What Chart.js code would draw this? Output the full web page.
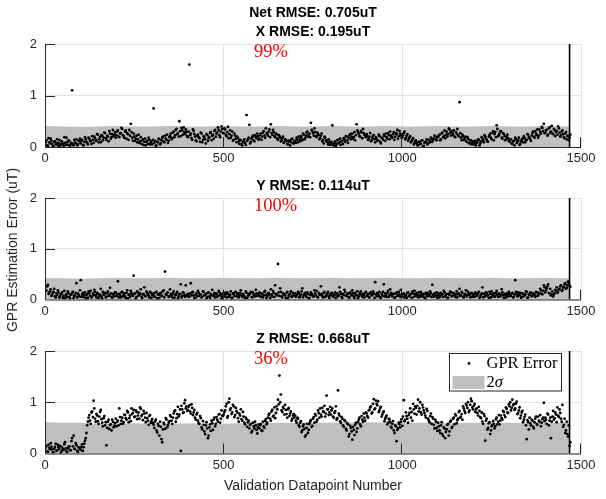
<!DOCTYPE html>
<html>
<head>
<meta charset="utf-8">
<script src="https://cdn.jsdelivr.net/npm/chart.js@4.4.1/dist/chart.umd.min.js"></script>
<style>
    html, body { margin: 0; padding: 0; background: #fff; }
    #wrap { position: relative; width: 606px; height: 499px; }
    #wrap canvas { position: absolute; left: 0; top: 0; }
</style>
</head>
<body>
<div id="wrap">
    <canvas id="chartX" width="606" height="499"></canvas>
    <canvas id="chartY" width="606" height="499"></canvas>
    <canvas id="chartZ" width="606" height="499"></canvas>
</div>
<script>
// sampled validation datapoints: first arrays at 0, 4, 8 ... 1468,
// second arrays at 2, 6, 10 ... 1470; one row = 100 datapoints
const SAMPLE_STEP = 4;
const SECOND_OFFSET = 2;

// GPR error, X component (uT)
const errX = [
    0.04, 0.13, 0.02, 0.09, 0.16, 0.06, 0.01, 0.11, 0.07, 0.03, 0.14, 0.05, 0.10, 0.02, 0.08, 0.18, 0.04, 0.12, 0.06, 1.10, 0.03, 0.09, 0.15, 0.05, 0.11,
    0.07, 0.14, 0.03, 0.19, 0.10, 0.05, 0.16, 0.12, 0.21, 0.08, 0.17, 0.13, 0.24, 0.15, 0.09, 0.22, 0.18, 0.27, 0.14, 0.20, 0.31, 0.16, 0.25, 0.21, 0.29,
    0.23, 0.32, 0.19, 0.27, 0.35, 0.21, 0.30, 0.16, 0.25, 0.33, 0.45, 0.18, 0.26, 0.12, 0.22, 0.15, 0.08, 0.19, 0.13, 0.04, 0.16, 0.10, 0.06, 0.14, 0.09,
    0.05, 0.75, 0.12, 0.03, 0.09, 0.15, 0.07, 0.18, 0.11, 0.22, 0.14, 0.08, 0.19, 0.26, 0.17, 0.30, 0.23, 0.35, 0.27, 0.50, 0.21, 0.32, 0.38, 0.25, 0.29,
    0.19, 1.60, 0.26, 0.14, 0.31, 0.20, 0.11, 0.24, 0.17, 0.28, 0.09, 0.21, 0.15, 0.25, 0.12, 0.19, 0.29, 0.22, 0.16, 0.33, 0.26, 0.38, 0.23, 0.30, 0.35,
    0.27, 0.34, 0.21, 0.39, 0.25, 0.18, 0.30, 0.14, 0.22, 0.09, 0.17, 0.06, 0.13, 0.03, 0.11, 0.08, 0.62, 0.15, 0.43, 0.10, 0.19, 0.13, 0.23, 0.17, 0.21,
    0.16, 0.26, 0.20, 0.31, 0.18, 0.27, 0.22, 0.34, 0.44, 0.24, 0.29, 0.19, 0.25, 0.14, 0.21, 0.11, 0.17, 0.08, 0.15, 0.12, 0.05, 0.13, 0.09, 0.16, 0.07,
    0.12, 0.18, 0.09, 0.15, 0.21, 0.13, 0.24, 0.17, 0.28, 0.20, 0.26, 0.47, 0.31, 0.22, 0.29, 0.19, 0.25, 0.15, 0.22, 0.11, 0.07, 0.18, 0.13, 0.05, 0.10,
    0.07, 0.42, 0.03, 0.11, 0.06, 0.14, 0.09, 0.04, 0.12, 0.17, 0.10, 0.20, 0.08, 0.23, 0.15, 0.26, 0.19, 0.13, 0.44, 0.29, 0.21, 0.31, 0.17, 0.27, 0.22,
    0.25, 0.14, 0.20, 0.11, 0.18, 0.23, 0.09, 0.16, 0.13, 0.21, 0.07, 0.17, 0.24, 0.12, 0.19, 0.27, 0.15, 0.22, 0.18, 0.29, 0.20, 0.25, 0.16, 0.31, 0.23,
    0.19, 0.27, 0.15, 0.22, 0.12, 0.18, 0.09, 0.14, 0.05, 0.11, 0.08, 0.03, 0.10, 0.06, 0.13, 0.02, 0.09, 0.15, 0.07, 0.12, 0.18, 0.10, 0.16, 0.21, 0.13,
    0.19, 0.24, 0.15, 0.28, 0.21, 0.17, 0.30, 0.25, 0.34, 0.22, 0.27, 0.32, 0.19, 0.26, 0.23, 0.87, 0.18, 0.24, 0.14, 0.20, 0.10, 0.16, 0.07, 0.13, 0.09,
    0.05, 0.12, 0.08, 0.15, 0.03, 0.11, 0.17, 0.09, 0.20, 0.14, 0.10, 0.23, 0.18, 0.27, 0.13, 0.29, 0.42, 0.21, 0.26, 0.31, 0.16, 0.25, 0.13, 0.20, 0.17,
    0.10, 0.15, 0.06, 0.12, 0.18, 0.08, 0.13, 0.04, 0.11, 0.16, 0.21, 0.09, 0.14, 0.24, 0.17, 0.12, 0.27, 0.20, 0.31, 0.23, 0.18, 0.34, 0.26, 0.37, 0.45,
    0.27, 0.33, 0.24, 0.38, 0.30, 0.26, 0.35, 0.21, 0.31, 0.40, 0.28, 0.23, 0.32, 0.19, 0.26, 0.15, 0.22, 0.18
];
const errX2 = [
    0.09, 0.03, 0.17, 0.07, 0.12, 0.01, 0.10, 0.05, 0.15, 0.08, 0.02, 0.11, 0.06, 0.19, 0.04, 0.09, 0.13, 0.02, 0.08, 0.05, 0.14, 0.07, 0.03, 0.12, 0.16,
    0.12, 0.04, 0.10, 0.15, 0.07, 0.18, 0.11, 0.06, 0.14, 0.20, 0.12, 0.25, 0.09, 0.19, 0.23, 0.13, 0.28, 0.17, 0.22, 0.11, 0.26, 0.19, 0.33, 0.24, 0.18,
    0.30, 0.20, 0.26, 0.37, 0.23, 0.18, 0.32, 0.27, 0.14, 0.22, 0.29, 0.12, 0.20, 0.16, 0.09, 0.24, 0.11, 0.06, 0.15, 0.10, 0.03, 0.12, 0.18, 0.05, 0.11,
    0.14, 0.08, 0.02, 0.10, 0.16, 0.05, 0.13, 0.20, 0.09, 0.16, 0.24, 0.12, 0.21, 0.15, 0.28, 0.19, 0.33, 0.25, 0.20, 0.31, 0.37, 0.24, 0.29, 0.34, 0.21,
    0.30, 0.23, 0.17, 0.34, 0.25, 0.13, 0.22, 0.19, 0.10, 0.26, 0.14, 0.18, 0.07, 0.23, 0.17, 0.27, 0.13, 0.24, 0.31, 0.20, 0.28, 0.33, 0.19, 0.40, 0.27,
    0.36, 0.24, 0.29, 0.17, 0.32, 0.22, 0.12, 0.26, 0.16, 0.20, 0.11, 0.14, 0.05, 0.09, 0.15, 0.04, 0.12, 0.18, 0.07, 0.16, 0.22, 0.11, 0.19, 0.26, 0.14,
    0.23, 0.14, 0.28, 0.22, 0.36, 0.25, 0.30, 0.19, 0.27, 0.33, 0.21, 0.26, 0.16, 0.23, 0.18, 0.13, 0.20, 0.10, 0.14, 0.06, 0.11, 0.03, 0.15, 0.08, 0.12,
    0.08, 0.14, 0.20, 0.11, 0.18, 0.26, 0.15, 0.22, 0.30, 0.24, 0.19, 0.33, 0.27, 0.36, 0.21, 0.28, 0.23, 0.17, 0.26, 0.14, 0.20, 0.12, 0.09, 0.15, 0.04,
    0.10, 0.05, 0.08, 0.02, 0.13, 0.07, 0.16, 0.11, 0.06, 0.15, 0.21, 0.13, 0.18, 0.25, 0.20, 0.16, 0.29, 0.23, 0.32, 0.26, 0.20, 0.28, 0.35, 0.24, 0.19,
    0.21, 0.16, 0.27, 0.13, 0.22, 0.15, 0.19, 0.12, 0.24, 0.10, 0.18, 0.14, 0.21, 0.26, 0.16, 0.23, 0.30, 0.19, 0.25, 0.14, 0.27, 0.33, 0.21, 0.26, 0.18,
    0.24, 0.30, 0.18, 0.25, 0.16, 0.21, 0.12, 0.17, 0.07, 0.13, 0.04, 0.10, 0.06, 0.12, 0.01, 0.08, 0.11, 0.05, 0.14, 0.09, 0.16, 0.13, 0.22, 0.15, 0.19,
    0.22, 0.13, 0.26, 0.19, 0.32, 0.24, 0.20, 0.36, 0.28, 0.31, 0.24, 0.20, 0.29, 0.35, 0.21, 0.27, 0.13, 0.21, 0.17, 0.12, 0.19, 0.08, 0.13, 0.05, 0.11,
    0.08, 0.03, 0.10, 0.14, 0.07, 0.19, 0.13, 0.23, 0.16, 0.11, 0.20, 0.26, 0.15, 0.31, 0.25, 0.19, 0.35, 0.23, 0.30, 0.18, 0.27, 0.21, 0.15, 0.24, 0.12,
    0.14, 0.07, 0.11, 0.03, 0.15, 0.10, 0.18, 0.06, 0.14, 0.09, 0.17, 0.13, 0.25, 0.19, 0.15, 0.22, 0.30, 0.18, 0.26, 0.34, 0.22, 0.29, 0.39, 0.31, 0.27,
    0.32, 0.22, 0.36, 0.28, 0.41, 0.25, 0.33, 0.29, 0.24, 0.36, 0.20, 0.30, 0.25, 0.17, 0.29, 0.21, 0.13, 0.24
];

// GPR error, Y component (uT)
const errY = [
    0.24, 0.17, 0.29, 0.13, 0.20, 0.09, 0.15, 0.06, 0.12, 0.18, 0.04, 0.10, 0.14, 0.07, 0.02, 0.11, 0.16, 0.05, 0.09, 0.13, 0.03, 0.08, 0.32, 0.12, 0.06,
    0.38, 0.10, 0.05, 0.14, 0.08, 0.03, 0.12, 0.17, 0.06, 0.09, 0.15, 0.04, 0.11, 0.07, 0.21, 0.02, 0.10, 0.13, 0.05, 0.16, 0.08, 0.12, 0.03, 0.09, 0.14,
    0.07, 0.36, 0.11, 0.04, 0.15, 0.09, 0.06, 0.13, 0.02, 0.10, 0.17, 0.08, 0.47, 0.12, 0.05, 0.14, 0.09, 0.20, 0.03, 0.11, 0.07, 0.16, 0.10, 0.04, 0.13,
    0.08, 0.12, 0.05, 0.15, 0.10, 0.03, 0.13, 0.07, 0.18, 0.55, 0.09, 0.14, 0.06, 0.11, 0.04, 0.16, 0.08, 0.12, 0.02, 0.10, 0.30, 0.07, 0.13, 0.05, 0.09,
    0.11, 0.06, 0.32, 0.14, 0.08, 0.03, 0.12, 0.17, 0.07, 0.10, 0.05, 0.15, 0.09, 0.02, 0.13, 0.06, 0.11, 0.19, 0.08, 0.04, 0.12, 0.07, 0.14, 0.10, 0.05,
    0.09, 0.13, 0.04, 0.11, 0.07, 0.16, 0.03, 0.10, 0.14, 0.06, 0.12, 0.08, 0.18, 0.05, 0.09, 0.02, 0.13, 0.07, 0.11, 0.15, 0.04, 0.10, 0.06, 0.12, 0.08,
    0.14, 0.05, 0.11, 0.08, 0.17, 0.03, 0.12, 0.09, 0.20, 0.06, 0.13, 0.28, 0.10, 0.70, 0.07, 0.15, 0.04, 0.11, 0.08, 0.13, 0.02, 0.10, 0.16, 0.06, 0.09,
    0.12, 0.07, 0.15, 0.04, 0.10, 0.22, 0.08, 0.13, 0.05, 0.11, 0.03, 0.14, 0.09, 0.06, 0.12, 0.17, 0.04, 0.10, 0.26, 0.07, 0.13, 0.05, 0.09, 0.15, 0.03,
    0.08, 0.12, 0.05, 0.14, 0.10, 0.06, 0.24, 0.11, 0.03, 0.09, 0.15, 0.07, 0.12, 0.04, 0.10, 0.18, 0.06, 0.13, 0.08, 0.02, 0.11, 0.16, 0.05, 0.09, 0.13,
    0.07, 0.11, 0.04, 0.14, 0.09, 0.12, 0.34, 0.06, 0.10, 0.15, 0.03, 0.08, 0.30, 0.12, 0.05, 0.17, 0.09, 0.13, 0.06, 0.11, 0.04, 0.14, 0.08, 0.10, 0.19,
    0.06, 0.12, 0.09, 0.03, 0.14, 0.07, 0.11, 0.16, 0.05, 0.10, 0.13, 0.04, 0.08, 0.15, 0.06, 0.11, 0.02, 0.09, 0.13, 0.07, 0.12, 0.29, 0.05, 0.10, 0.14,
    0.08, 0.04, 0.13, 0.10, 0.17, 0.06, 0.11, 0.03, 0.09, 0.14, 0.07, 0.12, 0.05, 0.16, 0.10, 0.21, 0.08, 0.13, 0.04, 0.11, 0.06, 0.15, 0.09, 0.12, 0.05,
    0.10, 0.14, 0.07, 0.12, 0.03, 0.09, 0.24, 0.11, 0.06, 0.13, 0.08, 0.15, 0.04, 0.10, 0.12, 0.07, 0.17, 0.05, 0.11, 0.09, 0.14, 0.03, 0.08, 0.12, 0.06,
    0.11, 0.07, 0.13, 0.05, 0.38, 0.10, 0.14, 0.08, 0.03, 0.12, 0.06, 0.10, 0.15, 0.04, 0.09, 0.13, 0.07, 0.11, 0.05, 0.14, 0.08, 0.12, 0.18, 0.10, 0.28,
    0.14, 0.22, 0.30, 0.12, 0.08, 0.16, 0.10, 0.19, 0.24, 0.15, 0.21, 0.28, 0.18, 0.25, 0.32, 0.23, 0.35, 0.27
];
const errY2 = [
    0.19, 0.26, 0.11, 0.16, 0.07, 0.13, 0.21, 0.04, 0.09, 0.14, 0.06, 0.11, 0.03, 0.17, 0.08, 0.05, 0.12, 0.02, 0.10, 0.15, 0.07, 0.13, 0.04, 0.09, 0.18,
    0.05, 0.13, 0.09, 0.02, 0.11, 0.16, 0.07, 0.04, 0.12, 0.19, 0.08, 0.13, 0.03, 0.10, 0.06, 0.15, 0.09, 0.04, 0.12, 0.07, 0.23, 0.05, 0.11, 0.06, 0.14,
    0.10, 0.04, 0.08, 0.14, 0.06, 0.12, 0.03, 0.18, 0.09, 0.05, 0.13, 0.07, 0.11, 0.02, 0.16, 0.08, 0.12, 0.05, 0.10, 0.24, 0.06, 0.13, 0.08, 0.15, 0.03,
    0.11, 0.06, 0.14, 0.02, 0.09, 0.12, 0.07, 0.16, 0.04, 0.10, 0.13, 0.05, 0.20, 0.08, 0.12, 0.03, 0.09, 0.15, 0.06, 0.11, 0.04, 0.14, 0.08, 0.28, 0.07,
    0.05, 0.12, 0.08, 0.15, 0.03, 0.10, 0.06, 0.13, 0.09, 0.04, 0.16, 0.08, 0.11, 0.05, 0.14, 0.03, 0.09, 0.07, 0.13, 0.10, 0.05, 0.17, 0.08, 0.02, 0.12,
    0.06, 0.10, 0.14, 0.05, 0.09, 0.03, 0.12, 0.07, 0.15, 0.10, 0.04, 0.13, 0.08, 0.11, 0.06, 0.16, 0.03, 0.09, 0.12, 0.05, 0.14, 0.08, 0.19, 0.07, 0.11,
    0.07, 0.12, 0.04, 0.15, 0.09, 0.06, 0.13, 0.03, 0.10, 0.17, 0.05, 0.11, 0.08, 0.14, 0.22, 0.06, 0.12, 0.09, 0.03, 0.15, 0.07, 0.11, 0.05, 0.13, 0.08,
    0.05, 0.10, 0.13, 0.07, 0.16, 0.04, 0.11, 0.08, 0.14, 0.02, 0.09, 0.12, 0.06, 0.18, 0.08, 0.05, 0.13, 0.09, 0.11, 0.04, 0.15, 0.07, 0.12, 0.06, 0.10,
    0.13, 0.06, 0.09, 0.03, 0.12, 0.08, 0.15, 0.05, 0.11, 0.19, 0.07, 0.10, 0.04, 0.14, 0.08, 0.12, 0.03, 0.09, 0.16, 0.06, 0.13, 0.08, 0.11, 0.04, 0.15,
    0.09, 0.05, 0.12, 0.08, 0.16, 0.03, 0.10, 0.13, 0.07, 0.04, 0.11, 0.15, 0.06, 0.09, 0.13, 0.05, 0.20, 0.08, 0.11, 0.03, 0.12, 0.07, 0.15, 0.05, 0.09,
    0.11, 0.04, 0.08, 0.13, 0.06, 0.10, 0.03, 0.12, 0.17, 0.07, 0.09, 0.14, 0.05, 0.11, 0.08, 0.04, 0.13, 0.06, 0.10, 0.16, 0.05, 0.09, 0.12, 0.07, 0.03,
    0.12, 0.07, 0.10, 0.05, 0.14, 0.09, 0.03, 0.11, 0.16, 0.06, 0.13, 0.08, 0.10, 0.04, 0.12, 0.07, 0.15, 0.05, 0.09, 0.18, 0.08, 0.11, 0.04, 0.13, 0.07,
    0.05, 0.11, 0.09, 0.15, 0.06, 0.12, 0.04, 0.10, 0.14, 0.08, 0.03, 0.11, 0.16, 0.07, 0.05, 0.13, 0.09, 0.12, 0.06, 0.20, 0.08, 0.11, 0.04, 0.10, 0.15,
    0.07, 0.12, 0.04, 0.10, 0.15, 0.06, 0.09, 0.13, 0.05, 0.11, 0.08, 0.16, 0.03, 0.10, 0.14, 0.06, 0.12, 0.09, 0.15, 0.07, 0.13, 0.21, 0.11, 0.17, 0.24,
    0.18, 0.26, 0.13, 0.21, 0.10, 0.06, 0.12, 0.17, 0.13, 0.20, 0.26, 0.17, 0.23, 0.30, 0.21, 0.28, 0.33, 0.25
];

// GPR error, Z component (uT)
const errZ = [
    0.06, 0.15, 0.03, 0.11, 0.20, 0.08, 0.02, 0.13, 0.05, 0.17, 0.09, 0.01, 0.12, 0.07, 0.22, 0.04, 0.10, 0.14, 0.06, 0.30, 0.35, 0.09, 0.16, 0.03, 0.11,
    0.07, 0.18, 0.12, 0.25, 0.40, 0.62, 0.75, 0.58, 0.82, 1.03, 0.68, 0.77, 0.63, 0.72, 0.85, 0.60, 0.69, 0.55, 0.16, 0.62, 0.48, 0.57, 0.66, 0.51, 0.59,
    0.53, 0.64, 0.88, 0.58, 0.70, 0.61, 0.75, 0.66, 0.80, 0.69, 0.63, 0.77, 0.85, 0.72, 0.81, 0.74, 0.68, 0.87, 0.76, 0.83, 0.70, 0.79, 0.64, 0.73, 0.60,
    0.67, 0.56, 0.62, 0.45, 0.58, 0.35, 0.52, 0.22, 0.60, 0.48, 0.66, 0.55, 0.63, 0.72, 0.58, 0.78, 0.84, 0.69, 0.91, 0.76, 0.05, 0.86, 0.80, 1.04, 0.92,
    0.85, 0.94, 0.78, 0.89, 0.80, 0.70, 0.76, 0.64, 0.58, 0.69, 0.47, 0.56, 0.38, 0.61, 0.30, 0.51, 0.44, 0.59, 0.66, 0.53, 0.71, 0.62, 0.77, 0.68, 0.74,
    0.76, 0.84, 0.97, 0.73, 1.07, 0.88, 0.80, 0.92, 0.75, 0.83, 0.69, 0.78, 0.86, 0.64, 0.72, 0.57, 0.67, 0.61, 0.49, 0.58, 0.44, 0.53, 0.62, 0.46, 0.51,
    0.49, 0.58, 0.44, 0.53, 0.63, 0.57, 0.70, 0.78, 0.64, 0.85, 0.74, 0.69, 0.92, 1.05, 1.52, 1.15, 0.81, 0.88, 0.95, 0.77, 0.86, 0.73, 0.82, 0.68, 0.77,
    0.74, 0.60, 0.68, 0.52, 0.63, 0.45, 0.57, 0.33, 0.50, 0.40, 0.58, 0.65, 0.54, 0.71, 0.77, 0.62, 0.84, 0.70, 0.76, 0.89, 0.81, 0.72, 1.13, 0.86, 0.80,
    0.76, 0.88, 0.70, 0.82, 0.66, 1.23, 0.74, 0.60, 0.68, 0.52, 0.63, 0.45, 0.57, 0.38, 0.50, 0.27, 0.46, 0.56, 0.42, 0.61, 0.70, 0.53, 0.66, 0.78, 0.64,
    0.78, 0.70, 0.85, 0.92, 0.80, 1.06, 0.88, 0.97, 1.02, 0.84, 0.91, 0.76, 0.82, 0.68, 0.74, 0.60, 0.66, 0.52, 0.58, 0.45, 0.55, 0.24, 0.49, 0.57, 0.62,
    0.54, 1.04, 0.66, 0.73, 0.60, 0.79, 0.70, 0.64, 0.86, 0.92, 0.76, 1.05, 0.88, 0.80, 0.95, 0.84, 0.74, 0.87, 0.68, 0.61, 0.78, 0.71, 0.56, 0.66, 0.50,
    0.60, 0.45, 0.55, 0.38, 0.51, 0.30, 0.47, 0.58, 0.43, 0.64, 0.52, 0.70, 0.77, 0.59, 0.68, 0.83, 0.72, 0.66, 0.88, 0.79, 0.94, 1.00, 0.84, 1.07, 0.90,
    0.93, 0.81, 0.88, 0.74, 0.83, 0.69, 0.62, 0.77, 0.25, 0.68, 0.50, 0.61, 0.45, 0.56, 0.58, 0.53, 0.70, 0.62, 0.57, 0.74, 0.66, 0.81, 0.71, 0.87, 0.79,
    0.92, 0.84, 1.05, 0.97, 0.88, 1.01, 0.79, 0.90, 0.74, 0.83, 0.66, 0.76, 0.28, 0.61, 0.70, 0.55, 0.64, 0.49, 0.68, 0.58, 0.72, 0.62, 0.53, 0.67, 0.99,
    0.70, 0.58, 0.76, 0.64, 0.30, 0.72, 0.66, 0.80, 0.61, 0.74, 0.86, 0.68, 0.95, 0.56, 0.40, 0.62, 0.33, 0.15
];
const errZ2 = [
    0.11, 0.04, 0.17, 0.08, 0.13, 0.02, 0.09, 0.19, 0.06, 0.12, 0.15, 0.04, 0.08, 0.18, 0.10, 0.03, 0.13, 0.07, 0.24, 0.14, 0.09, 0.20, 0.05, 0.12, 0.08,
    0.13, 0.05, 0.19, 0.30, 0.55, 0.70, 0.64, 0.80, 0.71, 0.88, 0.62, 0.74, 0.58, 0.81, 0.67, 0.53, 0.73, 0.61, 0.50, 0.66, 0.56, 0.45, 0.62, 0.54, 0.68,
    0.62, 0.55, 0.71, 0.64, 0.58, 0.76, 0.69, 0.83, 0.61, 0.74, 0.88, 0.79, 0.71, 0.84, 0.67, 0.80, 0.90, 0.73, 0.65, 0.78, 0.61, 0.69, 0.56, 0.75, 0.63,
    0.59, 0.50, 0.66, 0.41, 0.54, 0.62, 0.28, 0.47, 0.57, 0.69, 0.51, 0.60, 0.75, 0.64, 0.70, 0.82, 0.62, 0.77, 0.72, 0.86, 0.93, 0.79, 0.98, 0.88, 0.83,
    0.91, 0.82, 0.96, 0.75, 0.85, 0.66, 0.79, 0.59, 0.73, 0.51, 0.63, 0.43, 0.55, 0.49, 0.35, 0.57, 0.64, 0.46, 0.70, 0.58, 0.66, 0.76, 0.60, 0.84, 0.73,
    0.81, 0.92, 0.70, 1.00, 0.85, 0.77, 0.95, 0.71, 0.89, 0.80, 0.62, 0.74, 0.67, 0.81, 0.60, 0.70, 0.52, 0.64, 0.56, 0.41, 0.60, 0.49, 0.55, 0.39, 0.57,
    0.55, 0.45, 0.62, 0.50, 0.67, 0.60, 0.75, 0.68, 0.82, 0.72, 0.90, 0.79, 0.86, 0.96, 1.00, 0.84, 0.91, 0.76, 0.85, 0.70, 0.89, 0.78, 0.64, 0.74, 0.70,
    0.64, 0.70, 0.55, 0.60, 0.42, 0.53, 0.48, 0.36, 0.58, 0.46, 0.62, 0.52, 0.68, 0.60, 0.74, 0.66, 0.79, 0.88, 0.72, 0.82, 0.93, 0.78, 0.86, 0.75, 0.91,
    0.84, 0.72, 0.79, 0.92, 0.69, 0.78, 0.63, 0.71, 0.55, 0.65, 0.48, 0.59, 0.33, 0.54, 0.43, 0.52, 0.36, 0.60, 0.49, 0.66, 0.57, 0.73, 0.62, 0.70, 0.80,
    0.73, 0.84, 0.90, 0.78, 0.97, 0.86, 1.03, 0.94, 0.81, 0.89, 0.72, 0.80, 0.63, 0.71, 0.57, 0.68, 0.61, 0.50, 0.63, 0.40, 0.53, 0.46, 0.60, 0.51, 0.67,
    0.72, 0.63, 0.80, 0.68, 0.75, 0.88, 0.81, 0.97, 0.78, 0.89, 0.93, 0.82, 1.00, 0.76, 0.90, 0.79, 0.70, 0.83, 0.64, 0.73, 0.58, 0.68, 0.49, 0.62, 0.44,
    0.53, 0.40, 0.61, 0.34, 0.49, 0.42, 0.56, 0.35, 0.62, 0.50, 0.68, 0.57, 0.74, 0.65, 0.81, 0.70, 0.77, 0.92, 0.83, 0.97, 0.89, 0.81, 0.95, 1.02, 0.86,
    0.97, 0.86, 0.79, 0.91, 0.71, 0.80, 0.58, 0.73, 0.64, 0.47, 0.59, 0.38, 0.53, 0.63, 0.49, 0.67, 0.57, 0.75, 0.64, 0.69, 0.83, 0.75, 0.90, 0.80, 0.96,
    1.00, 0.89, 0.94, 0.85, 0.97, 0.77, 0.84, 0.69, 0.80, 0.61, 0.71, 0.55, 0.65, 0.47, 0.59, 0.66, 0.52, 0.61, 0.72, 0.56, 0.64, 0.75, 0.60, 0.70, 0.63,
    0.66, 0.78, 0.55, 0.70, 0.62, 0.83, 0.69, 0.76, 0.90, 0.71, 0.79, 0.62, 0.52, 0.68, 0.45, 0.38, 0.55, 0.22
];

// 2-sigma band
const sigmaX = [0, 50, 100, 150, 200, 250, 300, 350, 400, 450, 500, 550, 600, 650, 700, 750,
                800, 850, 900, 950, 1000, 1050, 1100, 1150, 1200, 1250, 1300, 1350, 1400, 1450, 1468];
const sigmaBandX = [0.41, 0.40, 0.39, 0.40, 0.41, 0.40, 0.40, 0.41, 0.40, 0.40, 0.41, 0.40, 0.40, 0.41, 0.40, 0.40,
                    0.41, 0.40, 0.40, 0.41, 0.40, 0.40, 0.41, 0.40, 0.40, 0.41, 0.40, 0.40, 0.41, 0.40, 0.40];
const sigmaBandY = [0.42, 0.42, 0.41, 0.42, 0.43, 0.42, 0.42, 0.43, 0.42, 0.42, 0.43, 0.42, 0.42, 0.43, 0.42, 0.42,
                    0.43, 0.42, 0.42, 0.43, 0.42, 0.42, 0.43, 0.42, 0.42, 0.43, 0.42, 0.42, 0.43, 0.42, 0.42];
const sigmaBandZ = [0.61, 0.60, 0.60, 0.58, 0.58, 0.59, 0.58, 0.58, 0.59, 0.58, 0.58, 0.59, 0.59, 0.60, 0.60, 0.60,
                    0.60, 0.60, 0.61, 0.60, 0.60, 0.60, 0.60, 0.59, 0.60, 0.60, 0.60, 0.59, 0.60, 0.60, 0.60];

const lastSample = 1468;   // vertical marker at end of validation set

const panels = [
    { id: 'chartX', top: 44,  bottom: 147,   err: errX, err2: errX2, band: sigmaBandX,
      titles: ['Net RMSE: 0.705uT', 'X RMSE: 0.195uT'], pct: '99%' },
    { id: 'chartY', top: 198, bottom: 299.5, err: errY, err2: errY2, band: sigmaBandY,
      titles: ['Y RMSE: 0.114uT'], pct: '100%', yLabel: 'GPR Estimation Error (uT)' },
    { id: 'chartZ', top: 351, bottom: 453.5, err: errZ, err2: errZ2, band: sigmaBandZ,
      titles: ['Z RMSE: 0.668uT'], pct: '36%', legend: true, xLabel: 'Validation Datapoint Number' }
];

const AXIS_COLOR = '#262626';
const SANS = "'Liberation Sans', Arial, sans-serif";
const SERIF = "'Liberation Serif', 'Times New Roman', serif";

// titles, red percentages, axis lines, axis labels and legend
const decorations = {
    id: 'decorations',
    afterDatasetsDraw(chart, args, opts) {
        const { ctx, chartArea: a, scales: { x, y } } = chart;
        const p = opts.panel;
        ctx.save();

        // left and bottom axis with inward ticks
        ctx.strokeStyle = AXIS_COLOR;
        ctx.lineWidth = 1;
        ctx.beginPath();
        ctx.moveTo(a.left + 0.5, a.top);
        ctx.lineTo(a.left + 0.5, a.bottom + 0.5);
        ctx.lineTo(a.right, a.bottom + 0.5);
        [1, 2].forEach(v => {
            const py = Math.round(y.getPixelForValue(v)) + 0.5;
            ctx.moveTo(a.left, py);
            ctx.lineTo(a.left + 10, py);
        });
        [500, 1000, 1500].forEach(v => {
            const px = Math.round(x.getPixelForValue(v)) - 0.5;
            ctx.moveTo(px, a.bottom);
            ctx.lineTo(px, a.bottom - 10);
        });
        ctx.stroke();

        // titles
        const cx = (a.left + a.right) / 2;
        ctx.fillStyle = '#000';
        ctx.font = 'bold 14px ' + SANS;
        ctx.textAlign = 'center';
        ctx.textBaseline = 'middle';
        p.titles.forEach((t, i) => {
            ctx.fillText(t, cx, a.top - 11.5 - 19 * (p.titles.length - 1 - i));
        });

        // coverage percentage
        ctx.fillStyle = '#ff0000';
        ctx.font = '18.5px ' + SERIF;
        ctx.textAlign = 'left';
        ctx.fillText(p.pct, x.getPixelForValue(585), a.top + 8.5);

        if (p.yLabel) {
            ctx.save();
            ctx.translate(13, 250);
            ctx.rotate(-Math.PI / 2);
            ctx.fillStyle = AXIS_COLOR;
            ctx.font = '14px ' + SANS;
            ctx.textAlign = 'center';
            ctx.fillText(p.yLabel, 0, 0);
            ctx.restore();
        }
        if (p.xLabel) {
            ctx.fillStyle = AXIS_COLOR;
            ctx.font = '14px ' + SANS;
            ctx.textAlign = 'center';
            ctx.fillText(p.xLabel, cx, 486);
        }

        if (p.legend) {
            const bx = a.right - 132, by = a.top + 2, bw = 112, bh = 37.5;
            ctx.fillStyle = '#fff';
            ctx.fillRect(bx, by, bw, bh);
            ctx.strokeStyle = AXIS_COLOR;
            ctx.strokeRect(bx + 0.5, by + 0.5, bw, bh);
            ctx.fillStyle = '#000';
            ctx.beginPath();
            ctx.arc(bx + 20, by + 10.5, 1.4, 0, Math.PI * 2);
            ctx.fill();
            ctx.fillStyle = '#bfbfbf';
            ctx.fillRect(bx + 3.5, by + 23, 32, 13);
            ctx.fillStyle = '#000';
            ctx.font = '16.5px ' + SERIF;
            ctx.textAlign = 'left';
            ctx.fillText('GPR Error', bx + 37.5, by + 10.5);
            ctx.fillText('2', bx + 37.5, by + 29.5);
            const w2 = ctx.measureText('2').width;
            ctx.font = 'italic 16.5px ' + SERIF;
            ctx.fillText('\u03c3', bx + 37.5 + w2, by + 29.5);
        }
        ctx.restore();
    }
};

panels.forEach(p => {
    const points = p.err.map((v, i) => ({ x: i * SAMPLE_STEP, y: v }))
        .concat(p.err2.map((v, i) => ({ x: i * SAMPLE_STEP + SECOND_OFFSET, y: v })));
    const band = sigmaX.map((sx, i) => ({ x: sx, y: p.band[i] }));

    new Chart(document.getElementById(p.id), {
        type: 'scatter',
        data: {
            datasets: [{
                label: 'GPR Error',
                data: points,
                backgroundColor: '#000',
                borderWidth: 0,
                pointRadius: 1.4,
                order: 1
            }, {
                type: 'line',
                label: 'end',
                data: [{ x: lastSample, y: 0 }, { x: lastSample, y: 2 }],
                borderColor: '#000',
                borderWidth: 1.6,
                pointRadius: 0,
                order: 2
            }, {
                type: 'line',
                label: '2\u03c3',
                data: band,
                backgroundColor: '#bfbfbf',
                borderWidth: 0,
                pointRadius: 0,
                fill: 'origin',
                tension: 0,
                order: 3
            }]
        },
        options: {
            responsive: false,
            animation: false,
            layout: {
                padding: { top: p.top, bottom: 499 - p.bottom - 20, left: 0, right: 25 }
            },
            plugins: {
                legend: { display: false },
                tooltip: { enabled: false },
                decorations: { panel: p }
            },
            scales: {
                x: {
                    type: 'linear',
                    min: 0,
                    max: 1500,
                    afterFit: s => { s.height = 20; },
                    border: { display: false },
                    grid: { color: '#e3e3e3', drawTicks: false },
                    ticks: {
                        stepSize: 500,
                        padding: 4,
                        color: AXIS_COLOR,
                        font: { family: SANS, size: 13 },
                        callback: v => String(v)
                    }
                },
                y: {
                    min: 0,
                    max: 2,
                    afterFit: s => { s.width = 45; },
                    border: { display: false },
                    grid: { color: '#e3e3e3', drawTicks: false },
                    ticks: {
                        stepSize: 1,
                        padding: 8,
                        color: AXIS_COLOR,
                        font: { family: SANS, size: 13 },
                        callback: v => String(v)
                    }
                }
            }
        },
        plugins: [decorations]
    });
});
</script>
</body>
</html>
